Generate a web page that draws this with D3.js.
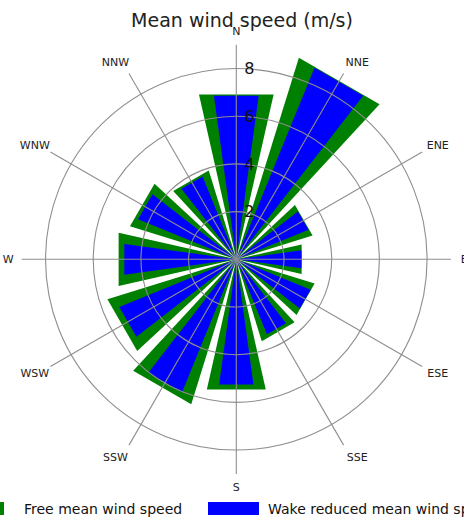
<!DOCTYPE html>
<html><head><meta charset="utf-8">
<script src="https://cdn.jsdelivr.net/npm/d3@7"></script>
<style>body{margin:0;background:#fff} svg{display:block}</style>
</head><body>
<svg id="chart" width="464" height="520"></svg>
<script>
// Wind rose: mean wind speed per direction sector (m/s)
const directions = ["N","NNE","ENE","E","ESE","SSE","S","SSW","WSW","W","WNW","NNW"];
const freeSpeed  = [7.09, 8.85, 3.35, 2.81, 3.44, 3.60, 5.60, 6.37, 5.66, 5.06, 4.67, 3.90];
const wakeSpeed  = [6.92, 8.68, 3.27, 2.76, 3.37, 3.40, 5.30, 6.02, 5.30, 4.74, 4.45, 3.75];
const radialTicks = [2, 4, 6, 8];
const radialMax = 9;
const seriesNames = ["Free mean wind speed", "Wake reduced mean wind speed"];
const seriesColors = ["#008000", "#0000ff"];

const svg = d3.select("#chart");
const cx = 236.3, cy = 259.3;
const font = "'DejaVu Sans', Verdana, sans-serif";

const r = d3.scaleLinear().domain([0, radialMax]).range([0, 214.6]);
const sector = 2 * Math.PI / directions.length;
const angle = d3.scaleBand().domain(directions)
  .range([-sector / 2, 2 * Math.PI - sector / 2]).paddingInner(0).paddingOuter(0);
const mid = d => angle(d) + angle.bandwidth() / 2;

const g = svg.append("g").attr("transform", `translate(${cx},${cy})`);

// Straight-edged wedge from the centre out to the value radius
function wedge(dir, value, widthFrac) {
  const a = mid(dir), h = angle.bandwidth() * widthFrac / 2, rr = r(value);
  const p = d3.path();
  p.moveTo(0, 0);
  p.lineTo(rr * Math.sin(a - h), -rr * Math.cos(a - h));
  p.lineTo(rr * Math.sin(a + h), -rr * Math.cos(a + h));
  p.closePath();
  return p.toString();
}

g.append("g").selectAll("path").data(directions).join("path")
  .attr("d", (d, i) => wedge(d, freeSpeed[i], 0.85))
  .attr("fill", seriesColors[0]);
g.append("g").selectAll("path").data(directions).join("path")
  .attr("d", (d, i) => wedge(d, wakeSpeed[i], 0.52))
  .attr("fill", seriesColors[1]);

// Grid drawn over the bars
const grid = g.append("g").attr("fill", "none").attr("stroke", "#8e8e8e").attr("stroke-width", 1.1);
grid.selectAll("circle").data(radialTicks).join("circle").attr("r", d => r(d));
grid.selectAll("line").data(directions).join("line")
  .attr("x1", 0).attr("y1", 0)
  .attr("x2", d => r(radialMax) * Math.sin(mid(d)))
  .attr("y2", d => -r(radialMax) * Math.cos(mid(d)));

// Radial tick labels along the north axis
g.append("g").selectAll("text").data(radialTicks).join("text")
  .attr("x", 13).attr("y", d => -r(d))
  .attr("dy", "0.36em")
  .attr("text-anchor", "middle")
  .attr("font-family", font).attr("font-size", 16).attr("fill", "#111")
  .text(d => d);

// Direction labels
g.append("g").selectAll("text").data(directions).join("text")
  .attr("x", d => { const a = mid(d); return 228 * Math.sin(a) + 8 * Math.sign(Math.round(Math.sin(a) * 1e6)) * Math.abs(Math.cos(a)); })
  .attr("y", d => -228 * Math.cos(mid(d)))
  .attr("dy", "0.36em")
  .attr("text-anchor", "middle")
  .attr("font-family", font).attr("font-size", 11).attr("fill", "#222")
  .text(d => d);

// Title
svg.append("text").attr("x", 242).attr("y", 27)
  .attr("text-anchor", "middle")
  .attr("font-family", font).attr("font-size", 19).attr("fill", "#222")
  .text("Mean wind speed (m/s)");

// Legend
const legend = svg.append("g");
const legendX = [-47, 208];
legend.selectAll("rect").data(seriesNames).join("rect")
  .attr("x", (d, i) => legendX[i]).attr("y", 502).attr("width", 51).attr("height", 13)
  .attr("fill", (d, i) => seriesColors[i]);
legend.selectAll("text").data(seriesNames).join("text")
  .attr("x", (d, i) => legendX[i] + [71, 60][i]).attr("y", 514)
  .attr("font-family", font).attr("font-size", 14).attr("fill", "#111")
  .text(d => d);
</script>
</body></html>
